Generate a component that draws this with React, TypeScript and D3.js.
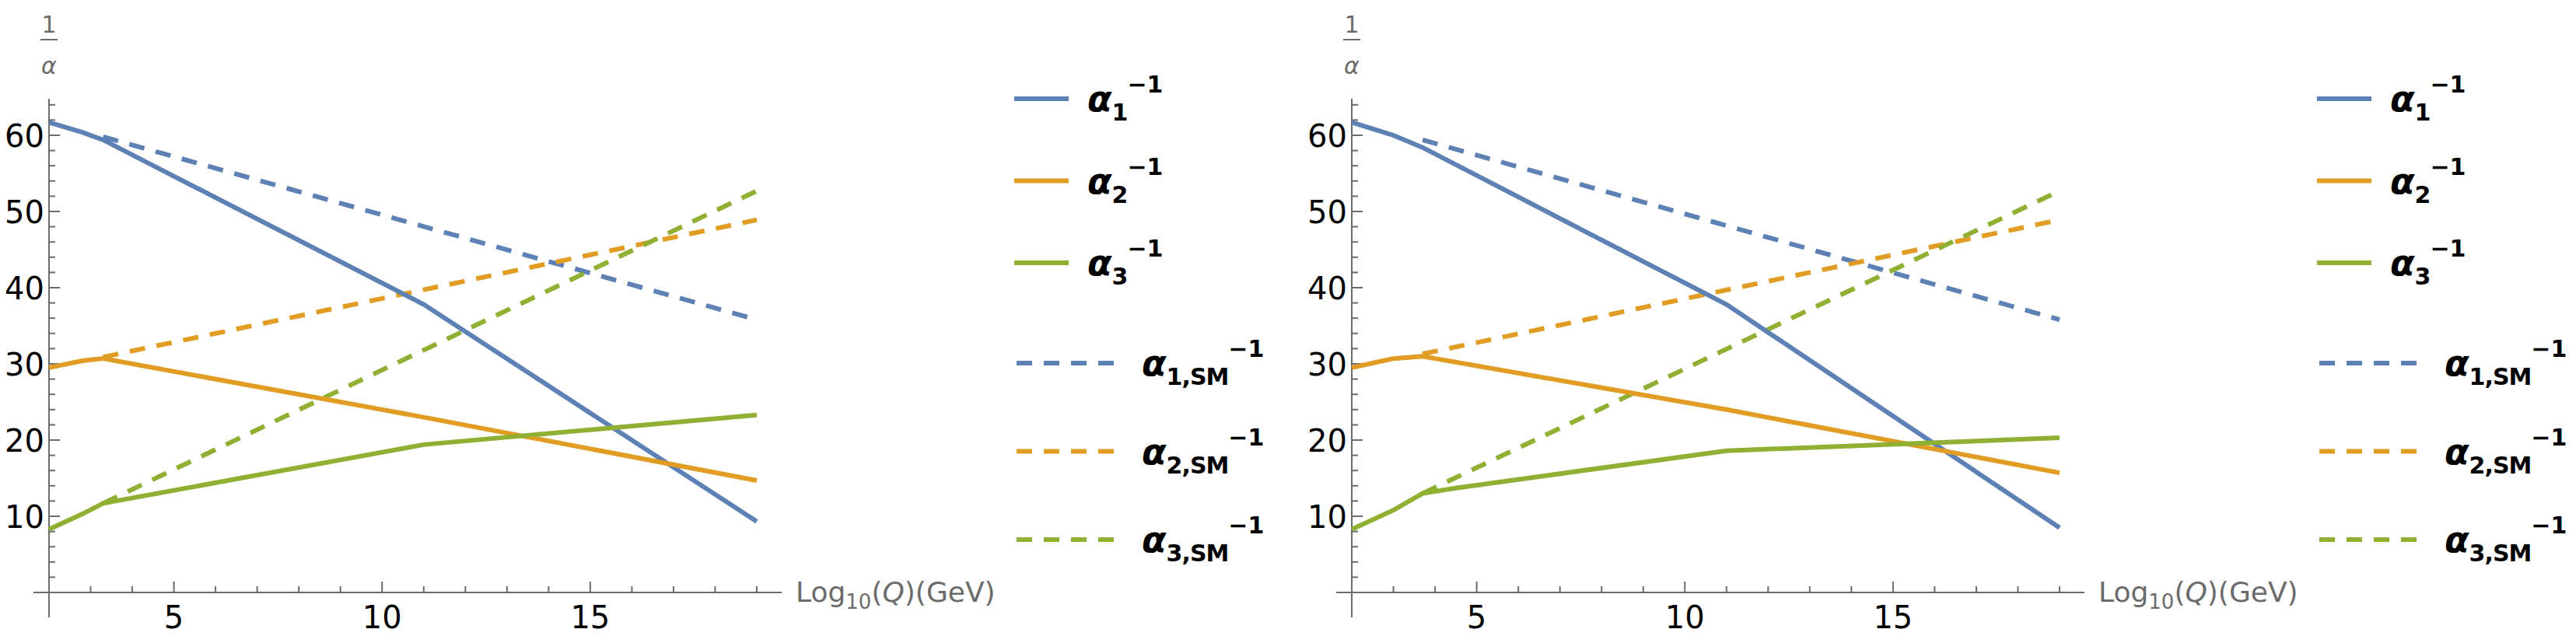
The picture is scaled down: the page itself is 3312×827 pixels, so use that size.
import React from 'react';
import * as d3 from 'd3';

const COLORS = ['#5E81B5', '#E19C24', '#8FB032'];

// left panel
const leftSolid: [number, number][][] = [
  [[2, 61.7], [2.8, 60.4], [3.3, 59.4], [11, 37.8], [19, 9.3]],
  [[2, 29.5], [2.8, 30.4], [3.3, 30.7], [11, 23], [19, 14.7]],
  [[2, 8.3], [2.8, 10.3], [3.3, 11.7], [11, 19.4], [19, 23.3]],
];
const leftDashed: [number, number][][] = [
  [[3.3, 59.8], [19, 35.8]],
  [[3.3, 30.9], [19, 48.9]],
  [[3.3, 11.7], [19, 52.7]],
];
// right panel
const rightSolid: [number, number][][] = [
  [[2, 61.7], [3, 60], [3.7, 58.4], [11, 37.8], [19, 8.5]],
  [[2, 29.5], [3, 30.7], [3.7, 31], [11, 24], [19, 15.7]],
  [[2, 8.3], [3, 10.8], [3.7, 13], [4.5, 13.7], [11, 18.6], [19, 20.3]],
];
const rightDashed: [number, number][][] = [
  [[3.7, 59.4], [19, 35.8]],
  [[3.7, 31.3], [19, 48.9]],
  [[3.7, 13], [19, 52.7]],
];

const xMajor = [5, 10, 15];
const xMinor = d3.range(3, 20);
const yMajor = [10, 20, 30, 40, 50, 60];
const yMinor = d3.range(2, 65, 2);
const solidLabels = ['1', '2', '3'];
const dashedLabels = ['1,SM', '2,SM', '3,SM'];

const FONT = 'DejaVu Sans, sans-serif';

function Alpha({ x, y, sub }: { x: number; y: number; sub: string }) {
  return (
    <text x={x} y={y} fontFamily={FONT} fontWeight="bold" fontSize={46} fill="#000">
      <tspan fontStyle="italic">α</tspan>
      <tspan fontSize={30} dy={12} letterSpacing={-1}>{sub}</tspan>
      <tspan fontSize={30} dy={-36}>−1</tspan>
    </text>
  );
}

function Panel({ ox, solid, dashed }: { ox: number; solid: [number, number][][]; dashed: [number, number][][] }) {
  const x = d3.scaleLinear().domain([2, 19]).range([ox + 63, ox + 973]);
  const y = d3.scaleLinear().domain([0, 60]).range([762, 174]);
  const line = d3.line<[number, number]>().x(d => x(d[0])).y(d => y(d[1]));
  const ax = x(2);
  const axisCol = '#6b6b6b';
  return (
    <g>
      {/* axes */}
      <line x1={ox + 43} x2={ox + 1005} y1={y(0)} y2={y(0)} stroke={axisCol} strokeWidth={2} />
      <line x1={ax} x2={ax} y1={127} y2={794} stroke={axisCol} strokeWidth={2} />
      {xMinor.map(t => (
        <line key={'xm' + t} x1={x(t)} x2={x(t)} y1={y(0)} y2={y(0) - (xMajor.includes(t) ? 14 : 8)} stroke={axisCol} strokeWidth={2} />
      ))}
      {xMajor.map(t => (
        <text key={'xl' + t} x={x(t)} y={y(0) + 46} textAnchor="middle" fontFamily={FONT} fontSize={40}>{t}</text>
      ))}
      {yMinor.map(t => (
        <line key={'ym' + t} x1={ax} x2={ax + (yMajor.includes(t) ? 14 : 8)} y1={y(t)} y2={y(t)} stroke={axisCol} strokeWidth={2} />
      ))}
      {yMajor.map(t => (
        <text key={'yl' + t} x={ax - 6} y={y(t) + 15} textAnchor="end" fontFamily={FONT} fontSize={40}>{t}</text>
      ))}
      <text x={ax} y={42} textAnchor="middle" fontFamily={FONT} fontSize={30} fill={axisCol}>1</text>
      <line x1={ax - 11} x2={ax + 11} y1={51} y2={51} stroke={axisCol} strokeWidth={2} />
      <text x={ax} y={95} textAnchor="middle" fontFamily={FONT} fontStyle="italic" fontSize={30} fill={axisCol}>α</text>
      <text x={ox + 1023} y={y(0) + 12} fontFamily={FONT} fontSize={36} fill={axisCol}>
        Log<tspan fontSize={26} dy={9}>10</tspan><tspan dy={-9}>(</tspan><tspan fontStyle="italic">Q</tspan>)(GeV)
      </text>
      {/* curves */}
      {dashed.map((d, i) => (
        <path key={'d' + i} d={line(d)!} fill="none" stroke={COLORS[i]} strokeWidth={6} strokeDasharray="20 15" />
      ))}
      {solid.map((d, i) => (
        <path key={'s' + i} d={line(d)!} fill="none" stroke={COLORS[i]} strokeWidth={6} />
      ))}
      {/* legend */}
      {solidLabels.map((s, i) => (
        <g key={'ls' + i}>
          <line x1={ox + 1304} x2={ox + 1374} y1={127 + i * 105.5} y2={127 + i * 105.5} stroke={COLORS[i]} strokeWidth={6} />
          <Alpha x={ox + 1398} y={143 + i * 105.5} sub={s} />
        </g>
      ))}
      {dashedLabels.map((s, i) => (
        <g key={'ld' + i}>
          <line x1={ox + 1307} x2={ox + 1442} y1={467 + i * 113.5} y2={467 + i * 113.5} stroke={COLORS[i]} strokeWidth={6} strokeDasharray="20 15" />
          <Alpha x={ox + 1468} y={483 + i * 113.5} sub={s} />
        </g>
      ))}
    </g>
  );
}

export default function App() {
  return (
    <svg width={3312} height={827} style={{ display: 'block', position: 'absolute', left: 0, top: 0, background: '#fff' }}>
      <rect width={3312} height={827} fill="#fff" />
      <Panel ox={0} solid={leftSolid} dashed={leftDashed} />
      <Panel ox={1675} solid={rightSolid} dashed={rightDashed} />
    </svg>
  );
}
